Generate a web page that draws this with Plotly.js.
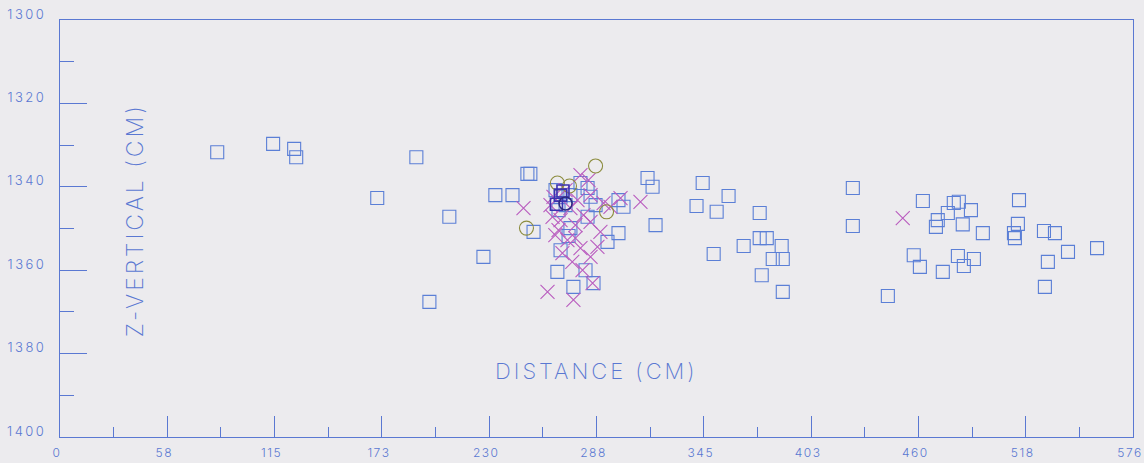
<!DOCTYPE html>
<html>
<head>
<meta charset="utf-8">
<script src="https://cdn.plot.ly/plotly-3.0.1.min.js"></script>
<style>
  html, body { margin: 0; padding: 0; background: #ecebee; }
  #chart { width: 1144px; height: 463px; }
  .xtick text { letter-spacing: 1.5px; }
  .ytick text { letter-spacing: 2.5px; }
  .annotation-text { letter-spacing: 3px; }
</style>
</head>
<body>
<div id="chart"></div>
<script>
// Blue open squares
const squareX = [84.4,114.4,125.7,126.8,191.3,170.3,209.0,227.3,198.3,233.7,242.9,250.9,252.5,254.2,
  266.0,268.7,271.4,267.6,274.0,283.2,284.8,283.2,274.0,273.0,299.8,302.5,299.8,293.9,268.7,267.0,282.1,286.4,275.6,
  315.4,318.1,319.7,279.4,287.5,
  345.0,358.9,341.7,352.5,375.6,367.0,350.9,375.6,379.4,387.4,382.6,388.0,376.7,388.0,425.6,425.6,444.4,
  463.2,471.2,470.2,476.6,479.8,482.5,489.0,484.6,495.4,514.8,514.2,512.1,512.6,528.2,534.1,541.1,556.7,530.3,528.7,
  458.3,461.6,473.9,482.0,485.2,490.6];
const squareZ = [1331.7,1329.7,1330.9,1332.9,1332.9,1342.7,1347.2,1356.8,1367.6,1342.0,1342.0,1336.9,1336.9,1350.8,
  1340.8,1342.4,1344.4,1345.6,1342.0,1340.3,1342.4,1347.2,1349.9,1351.8,1343.2,1344.8,1351.1,1353.2,1355.2,1360.4,1360.0,1363.1,1364.0,
  1337.9,1340.0,1349.2,1339.1,1344.4,
  1339.1,1342.2,1344.6,1346.0,1346.3,1354.2,1356.1,1352.3,1352.3,1354.2,1357.3,1357.3,1361.2,1365.2,1340.3,1349.4,1366.2,
  1343.4,1348.0,1349.6,1346.3,1343.9,1343.6,1345.6,1349.0,1351.1,1343.2,1348.9,1351.1,1352.3,1350.6,1351.1,1355.6,1354.7,1358.0,1364.0,
  1356.4,1359.2,1360.4,1356.6,1359.0,1357.3];

// Magenta crosses
const crossX = [248.8,311.6,261.7,275.6,279.4,283.7,264.4,267.6,276.7,279.4,288.5,284.8,269.7,300.9,295.5,274.0,268.7,
  280.5,285.9,277.8,284.8,291.8,281.0,284.8,271.4,263.3,272.4,265.9,290.1,275.0,452.4,264.9,276.7];
const crossZ = [1345.1,1343.6,1365.2,1367.1,1337.2,1338.4,1347.2,1350.4,1352.3,1354.7,1354.4,1356.8,1355.9,1342.7,1344.8,1345.1,1348.0,
  1360.0,1363.1,1343.2,1342.0,1343.9,1346.8,1348.4,1340.8,1344.4,1352.8,1351.6,1350.8,1358.0,1347.5,1342.4,1349.2];

// Olive open circles
const circleX = [287.5,250.4,293.4,267.0,273.5];
const circleZ = [1335.0,1349.9,1346.0,1339.1,1339.8];

// Dense overlap (navy)
const denseSqX = [268.7,270.0,266.5];
const denseSqZ = [1342.0,1341.0,1344.2];
const denseCircX = [271.4];
const denseCircZ = [1344.0];

// Axis ticks
const xTickVals = [0,57.6,115.2,172.8,230.4,288,345.6,403.2,460.8,518.4,576];
const xTickText = ["0","58","115","173","230","288","345","403","460","518","576"];
const yTickVals = [1300,1320,1340,1360,1380,1400];
const yTickText = ["1300","1320","1340","1360","1380","1400"];

const AX = '#5a78d2';
const FONT = 'Inter, Liberation Sans, sans-serif';

const traces = [
  {x: squareX, y: squareZ, type: 'scatter', mode: 'markers', name: 'squares',
   marker: {symbol: 'square-open', size: 13, color: '#5b7fd6', line: {width: 1.1}}},
  {x: crossX, y: crossZ, type: 'scatter', mode: 'markers', name: 'crosses',
   marker: {symbol: 'x-thin-open', size: 14, color: '#b95cbf', line: {width: 1.1, color: '#b95cbf'}}},
  {x: circleX, y: circleZ, type: 'scatter', mode: 'markers', name: 'circles',
   marker: {symbol: 'circle-open', size: 14, color: '#8c8c3e', line: {width: 1.1}}},
  {x: denseSqX, y: denseSqZ, type: 'scatter', mode: 'markers', name: 'dense squares',
   marker: {symbol: 'square-open', size: 12, color: '#3a32b0', line: {width: 1.6}}},
  {x: denseCircX, y: denseCircZ, type: 'scatter', mode: 'markers', name: 'dense circle',
   marker: {symbol: 'circle-open', size: 13, color: '#2c2a80', line: {width: 1.6}}}
];

const layout = {
  width: 1144, height: 463,
  margin: {l: 60, r: 11, t: 20, b: 26},
  paper_bgcolor: '#ecebee', plot_bgcolor: '#ecebee',
  showlegend: false,
  font: {family: FONT, color: AX},
  xaxis: {
    range: [0, 576], showgrid: false, zeroline: false,
    showline: true, linecolor: AX, linewidth: 1, mirror: true,
    tickmode: 'array', tickvals: xTickVals, ticktext: xTickText,
    ticks: 'inside', ticklen: 21, tickcolor: AX, tickwidth: 1,
    ticklabelstandoff: 5, ticklabelshift: -3, ticklabeloverflow: 'allow',
    tickfont: {family: FONT, size: 12, color: AX, weight: 300},
    minor: {dtick: 28.8, tick0: 0, ticks: 'inside', ticklen: 10, tickcolor: AX, tickwidth: 1}
  },
  yaxis: {
    range: [1400, 1300], showgrid: false, zeroline: false,
    showline: true, linecolor: AX, linewidth: 1, mirror: true,
    tickmode: 'array', tickvals: yTickVals, ticktext: yTickText,
    ticks: 'inside', ticklen: 27, tickcolor: AX, tickwidth: 1,
    ticklabelstandoff: 10, ticklabelshift: 6, ticklabeloverflow: 'allow',
    tickfont: {family: FONT, size: 13, color: AX, weight: 300},
    minor: {dtick: 10, tick0: 1300, ticks: 'inside', ticklen: 14, tickcolor: AX, tickwidth: 1}
  },
  annotations: [
    {text: 'DISTANCE (CM)', xref: 'paper', yref: 'paper', x: 0.5, y: 0.158,
     showarrow: false, xanchor: 'center', yanchor: 'middle',
     font: {family: FONT, size: 22, color: AX, weight: 200}},
    {text: 'Z-VERTICAL (CM)', xref: 'paper', yref: 'paper', x: 0.07, y: 0.52,
     showarrow: false, textangle: -90, xanchor: 'center', yanchor: 'middle',
     font: {family: FONT, size: 23, color: AX, weight: 200}}
  ]
};

Plotly.newPlot('chart', traces, layout, {displayModeBar: false, staticPlot: true});
</script>
</body>
</html>
